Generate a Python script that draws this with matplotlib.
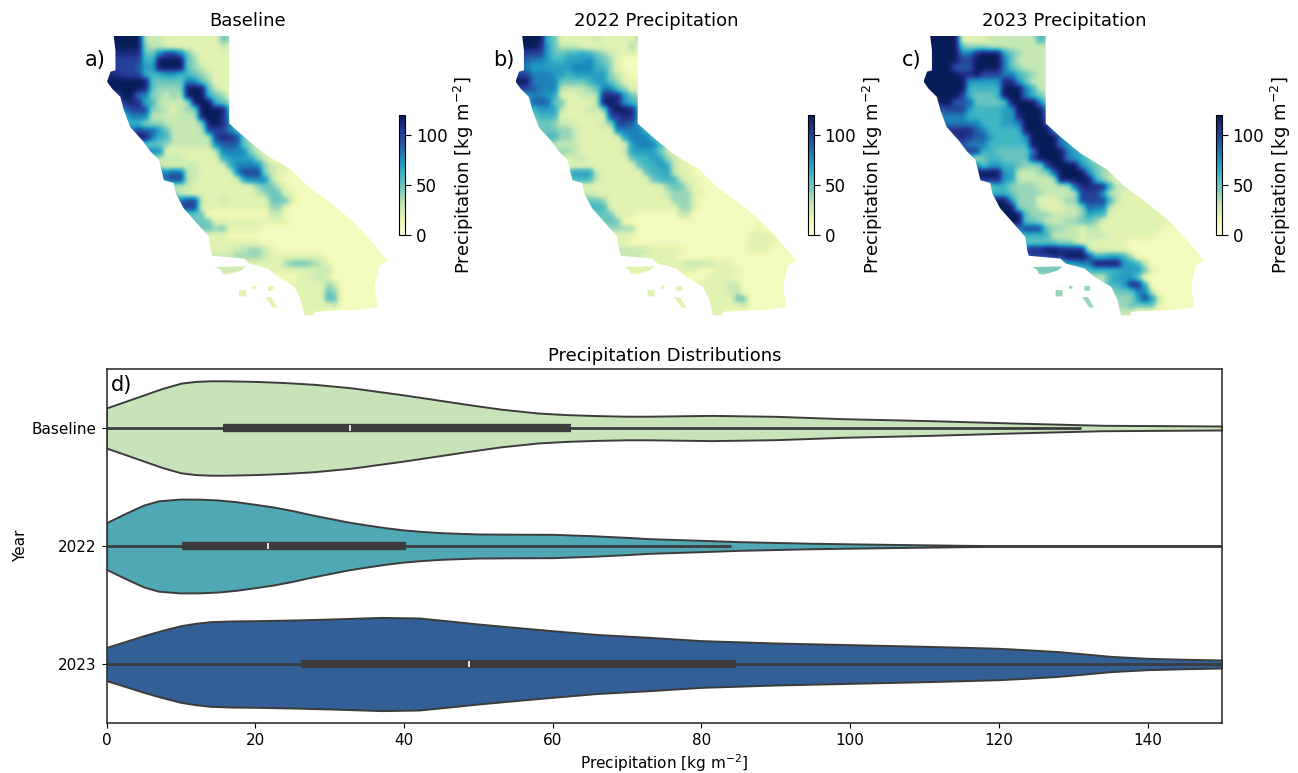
import numpy as np
import matplotlib
matplotlib.use("Agg")
import matplotlib.pyplot as plt
from matplotlib.path import Path
from matplotlib.patches import PathPatch

# map cells, one char per cell, 0-9 a b c = tens of kg m-2
baseline_rows = [
    "ccccc3332222222254",
    "ccccc4332222222232",
    "bbbbb558aa85322222",
    "aaaaa66cccc5422222",
    "aaaa977cccc5432222",
    "bbaaa6667766543222",
    "cccccc555558854222",
    "cccccb54444ccc5322",
    "aacc8844343ccc6542",
    "88bbb6633333ccc654",
    "888aaa4432344cccc6",
    "6668883333333cccb7",
    "66666444333334ccb84",
    "6669a997533333aaa864",
    "7777cc866333333abba53",
    "5555555543333338999542",
    "88888888222222238888432",
    "444444433332222267777431",
    "33333333222332222688884322",
    "8888888889933222228aaa43221",
    "999999999aa33222222788832111",
    "333333333333222222222455321111",
    "4444444444322222222223455221111",
    "88888888888aa322322222255521111111",
    "aaaaaaaaaaaaa222222222244211111111",
    "55555555555555111111111331111111111",
    "666666666666555222222222221111111111",
    "55555555555555545222221111111111111111",
    "22222222222222222111111111111111111111",
    "2222222222222222222222111111111111111111",
    "22222222222222222233443211111111111111",
    "33333333333333333344443222222221111111",
    "22222222222222222222222224555432111111",
    "33333333333333333333222222222233111111",
    "11111111111111111111111111122332111111",
    "22222222222222222222222222222224311111",
    "22222222222222222222222222222225411111",
    "22222222222222222222222222222226511111",
    "22222222222222222222222222222222311111",
    "22222222222222222222222222222221111111",
]

y2022_rows = [
    "cccc652222232222243",
    "cccb75333222222242",
    "baaa75566765432222",
    "99887667778654 2111".replace(" ", ""),
    "88777777888664211111",
    "aa8887767777743211",
    "cc888855556775422 2".replace(" ", ""),
    "aa9888333345885422",
    "778877222333bbb7542",
    "66999552222 3ccb765".replace(" ", ""),
    "666777322233 4bccb7".replace(" ", ""),
    "5556662222222aabb7",
    "33355433222234aa974",
    "55555544322222888865",
    "555566443222222788863",
    "33333333322222227888643",
    "44444444322222237777532",
    "333333323322222256677432",
    "2222222222222222256677 3221".replace(" ", ""),
    "666666667773222222566732211",
    "5555555566632222222566632211",
    "222222222222222222222455321111",
    "3333333333322222222223444221111",
    "55555555555542222222224442111111",
    "666666666666622222222224421111111",
    "55555555555555222111111331111111111",
    "555555555555555111111111111111111111",
    "44444444444444444111111111111111112111",
    "22222222222222222111111111111111122221",
    "22222222222222221111111111111111122221",
    "33333333333333333332222211111111122211",
    "33333333333333333322222111111111111111",
    "22222222222222222222222233332221111111",
    "22222222222222222222222222112222111111",
    "11111111111111111111111111122221111111",
    "22222222222222222222222222222233111111",
    "22222222222222222222222222222233111111",
    "22222222222222222222222222222225511111",
    "22222222222222222222222222222222311111",
    "22222222222222222222222222222211111111",
]

y2023_rows = [
    "ccccc2222333333365",
    "ccccc5444333333333",
    "ccccc88bccc7543333",
    "bccccaacccc8533333",
    "bccc999cccc8543333",
    "cccccbbcaaa8865433",
    "cccccc77777bb75333",
    "cccccc66666ccc8633",
    "ccccca65556ccc8653",
    "aacc99955555cccc85",
    "999aaa766667 7cccc8".replace(" ", ""),
    "8888886666677bccc9",
    "88888888666778ccca7",
    "888bbbb9866666cccc86",
    "8888bba99766667cccc875",
    "999999888666666cccc8754",
    "aaaaaaaa66555558cccc8765",
    "66666663566555 5acccc87652".replace(" ", ""),
    "88888888577665444acccc765432",
    "ccccccccccc77333449cccc75432",
    "bbbbbbbbbbb77333333ccccc64322222",
    "55555555556644443333 39bbbb63332222222".replace(" ", ""),
    "666666666666544443333 3aaa733222222222".replace(" ", ""),
    "cccccccccccc7444222344aaaa632222222222",
    "ccccccccccccc4443222334988322222222222",
    "cccccccccccccc544433334766222222222222",
    "cccccccccccccc55433344554222222222222",
    "88888888888888aaa544332332222222221111",
    "666666666666666666333323332222222111111",
    "5555555555555555555443222222211111111111",
    "aaaaaaaaaaaaaaabbccbbbb3222221111111111",
    "aaaaaaaaaaaaaaaaaabbccca66776411111111",
    "444444444444444444447788cccc77631111111",
    "555555555555555555555556666677752111111",
    "333333333333333333333333336777511111111",
    "44444444444444444444444444667bb611111111",
    "44444444444444444444444444455588 31111111".replace(" ", ""),
    "4444444444444444444444444444447a731111111",
    "4444444444444444444444444444455552111111",
    "33333333333333333333333333333311111111",
]

# state outline and islands, in map cell units
coast_x = [0.95, 17.4, 17.4, 19.5, 22.4, 26.2, 28.6, 31.9, 34.8, 37.1, 39.3, 40.0, 38.8, 38.1, 38.6, 35.7,
           29.5, 29.5, 28.1, 27.6, 26.7, 24.3, 22.9, 20.2, 19.5, 15.0, 14.8, 14.5, 12.4, 10.9, 9.8, 9.5,
           8.1, 7.4, 6.2, 5.0, 3.3, 2.4, 1.9, 0.7, 0.0, 0.5, 1.2, 1.2]
coast_y = [0.0, 0.0, 12.5, 14.4, 16.8, 19.1, 21.5, 23.9, 26.3, 28.7, 31.3, 32.1, 32.7, 35.8, 38.7, 39.1,
           39.4, 39.9, 39.9, 37.7, 35.8, 34.4, 33.2, 32.5, 31.8, 31.4, 30.8, 28.7, 26.3, 24.6, 22.5, 21.0,
           20.6, 17.7, 16.5, 14.9, 13.0, 10.6, 8.7, 7.5, 6.5, 5.1, 4.9, 2.0]
islands = [
    ([15.5, 19.8, 19.1, 17.1, 16.4, 16.2], [33.0, 32.9, 33.5, 34.1, 34.0, 33.4]),
    ([18.8, 19.8, 19.8, 18.8], [36.3, 36.3, 37.2, 37.2]),
    ([20.7, 21.2, 21.2, 20.7], [35.7, 35.7, 36.1, 36.1]),
    ([22.9, 23.7, 23.7, 22.9], [35.7, 35.7, 36.4, 36.4]),
    ([22.6, 23.4, 24.3, 23.6], [37.3, 37.3, 38.8, 38.8]),
]

panel_titles = ["Baseline", "2022 Precipitation", "2023 Precipitation"]
panel_letters = ["a)", "b)", "c)"]

# violins: half width (in y units) read along precipitation
years = ["Baseline", "2022", "2023"]
base_x = [0, 2.5, 5, 7.5, 10, 12, 14, 16, 20, 24, 28, 33, 40, 48.5, 53, 58, 62, 66, 70, 73, 81.4, 90, 99, 111, 122, 134, 150]
base_w = [.17, .225, .28, .335, .38, .395, .40, .40, .395, .385, .37, .34, .28, .20, .16, .127, .113, .105, .10, .10, .107, .099, .079, .062, .042, .023, .017]
y22_x = [0, 2.5, 5, 7, 10, 12.5, 15, 17.5, 20, 22.5, 25, 27.5, 30, 32.5, 35, 37.5, 40, 42.5, 45, 47.5, 50, 55, 60, 65, 70, 73, 80, 85, 95, 105, 115, 120, 150]
y22_w = [.198, .275, .347, .383, .398, .397, .39, .375, .353, .33, .30, .265, .234, .203, .178, .155, .136, .123, .113, .107, .102, .10, .099, .088, .073, .062, .048, .037, .023, .014, .006, .003, 0]
y23_x = [0, 2.5, 5, 7.5, 10, 12, 14, 17, 20, 25, 30, 33, 37, 42, 46, 50, 55, 60, 66, 73, 80, 85, 90, 95, 100, 105, 110, 115, 120, 124, 128, 131, 135, 137, 140, 145, 150]
y23_w = [.141, .19, .24, .285, .325, .345, .359, .365, .367, .373, .381, .387, .395, .39, .365, .339, .31, .282, .25, .226, .198, .188, .178, .171, .164, .157, .15, .142, .133, .12, .105, .088, .065, .058, .048, .04, .034]
violin_colors = ["#c7e3ba", "#50a8b4", "#315f96"]
whisker_hi = [131, 84, 150]
q1 = [15.7, 10.1, 26.2]
medians = [32.7, 21.7, 48.7]
q3 = [62.5, 40.3, 84.7]

W, H = 1298, 773


def ax_px(x0, y0, x1, y1):
    return fig.add_axes([x0 / W, 1 - y1 / H, (x1 - x0) / W, (y1 - y0) / H])


def to_grid(rows):
    grid = np.ones((40, 40)) * 10
    for r, row in enumerate(rows):
        for c, ch in enumerate(row[:40]):
            grid[r, c] = int(ch, 36) * 10
    return grid


fig = plt.figure(figsize=(W / 100, H / 100), dpi=100)

verts = list(zip(coast_x, coast_y)) + [(coast_x[0], coast_y[0])]
codes = [Path.MOVETO] + [Path.LINETO] * (len(coast_x) - 1) + [Path.CLOSEPOLY]
for ix, iy in islands:
    verts += list(zip(ix, iy)) + [(ix[0], iy[0])]
    codes += [Path.MOVETO] + [Path.LINETO] * (len(ix) - 1) + [Path.CLOSEPOLY]
state_path = Path(verts, codes)

for i, rows in enumerate([baseline_rows, y2022_rows, y2023_rows]):
    off = [0, 408.5, 816.5][i]
    ax = ax_px(107 + off, 36, 388 + off, 316)
    im = ax.imshow(to_grid(rows), cmap="YlGnBu", vmin=0, vmax=120, extent=(0, 40, 40, 0),
                   aspect="auto", interpolation="gaussian")
    im.set_clip_path(PathPatch(state_path, transform=ax.transData))
    ax.axis("off")
    ax.set_title(panel_titles[i], fontsize=13, pad=7)
    fig.text((85 + off) / W, 1 - 60 / H, panel_letters[i], fontsize=15, va="center")

    cax = ax_px(399 + off, 115, 405 + off, 235)
    cb = fig.colorbar(im, cax=cax)
    cb.set_ticks([0, 50, 100])
    cb.ax.tick_params(labelsize=12, length=4, pad=4)
    cb.set_label("Precipitation [kg m$^{-2}$]", fontsize=13, labelpad=3)

ax = ax_px(106.5, 369, 1222, 723)
series = [(base_x, base_w), (y22_x, y22_w), (y23_x, y23_w)]
line_col = "#3c3c3c"
for i, (xs, ws) in enumerate(series):
    xs = np.array(xs)
    ws = np.array(ws)
    ax.fill_between(xs, i - ws, i + ws, facecolor=violin_colors[i], edgecolor=line_col, linewidth=1.4)
    ax.plot([0, whisker_hi[i]], [i, i], color=line_col, lw=2, solid_capstyle="butt")
    ax.plot([q1[i], q3[i]], [i, i], color=line_col, lw=6, solid_capstyle="butt")
    ax.plot([medians[i], medians[i]], [i - 0.025, i + 0.025], color="white", lw=1.2, solid_capstyle="butt")
ax.set_xlim(0, 150)
ax.set_ylim(2.5, -0.5)
ax.set_yticks(range(3))
ax.set_yticklabels(years)
ax.tick_params(labelsize=11)
ax.set_xlabel("Precipitation [kg m$^{-2}$]", fontsize=11, labelpad=3)
ax.set_ylabel("Year", fontsize=11, labelpad=3)
ax.set_title("Precipitation Distributions", fontsize=13, pad=6)
ax.text(0.0035, 0.955, "d)", transform=ax.transAxes, fontsize=15, va="center")
for s in ax.spines.values():
    s.set_color("#333333")
    s.set_linewidth(1.2)

fig.savefig("out.png", dpi=100)
